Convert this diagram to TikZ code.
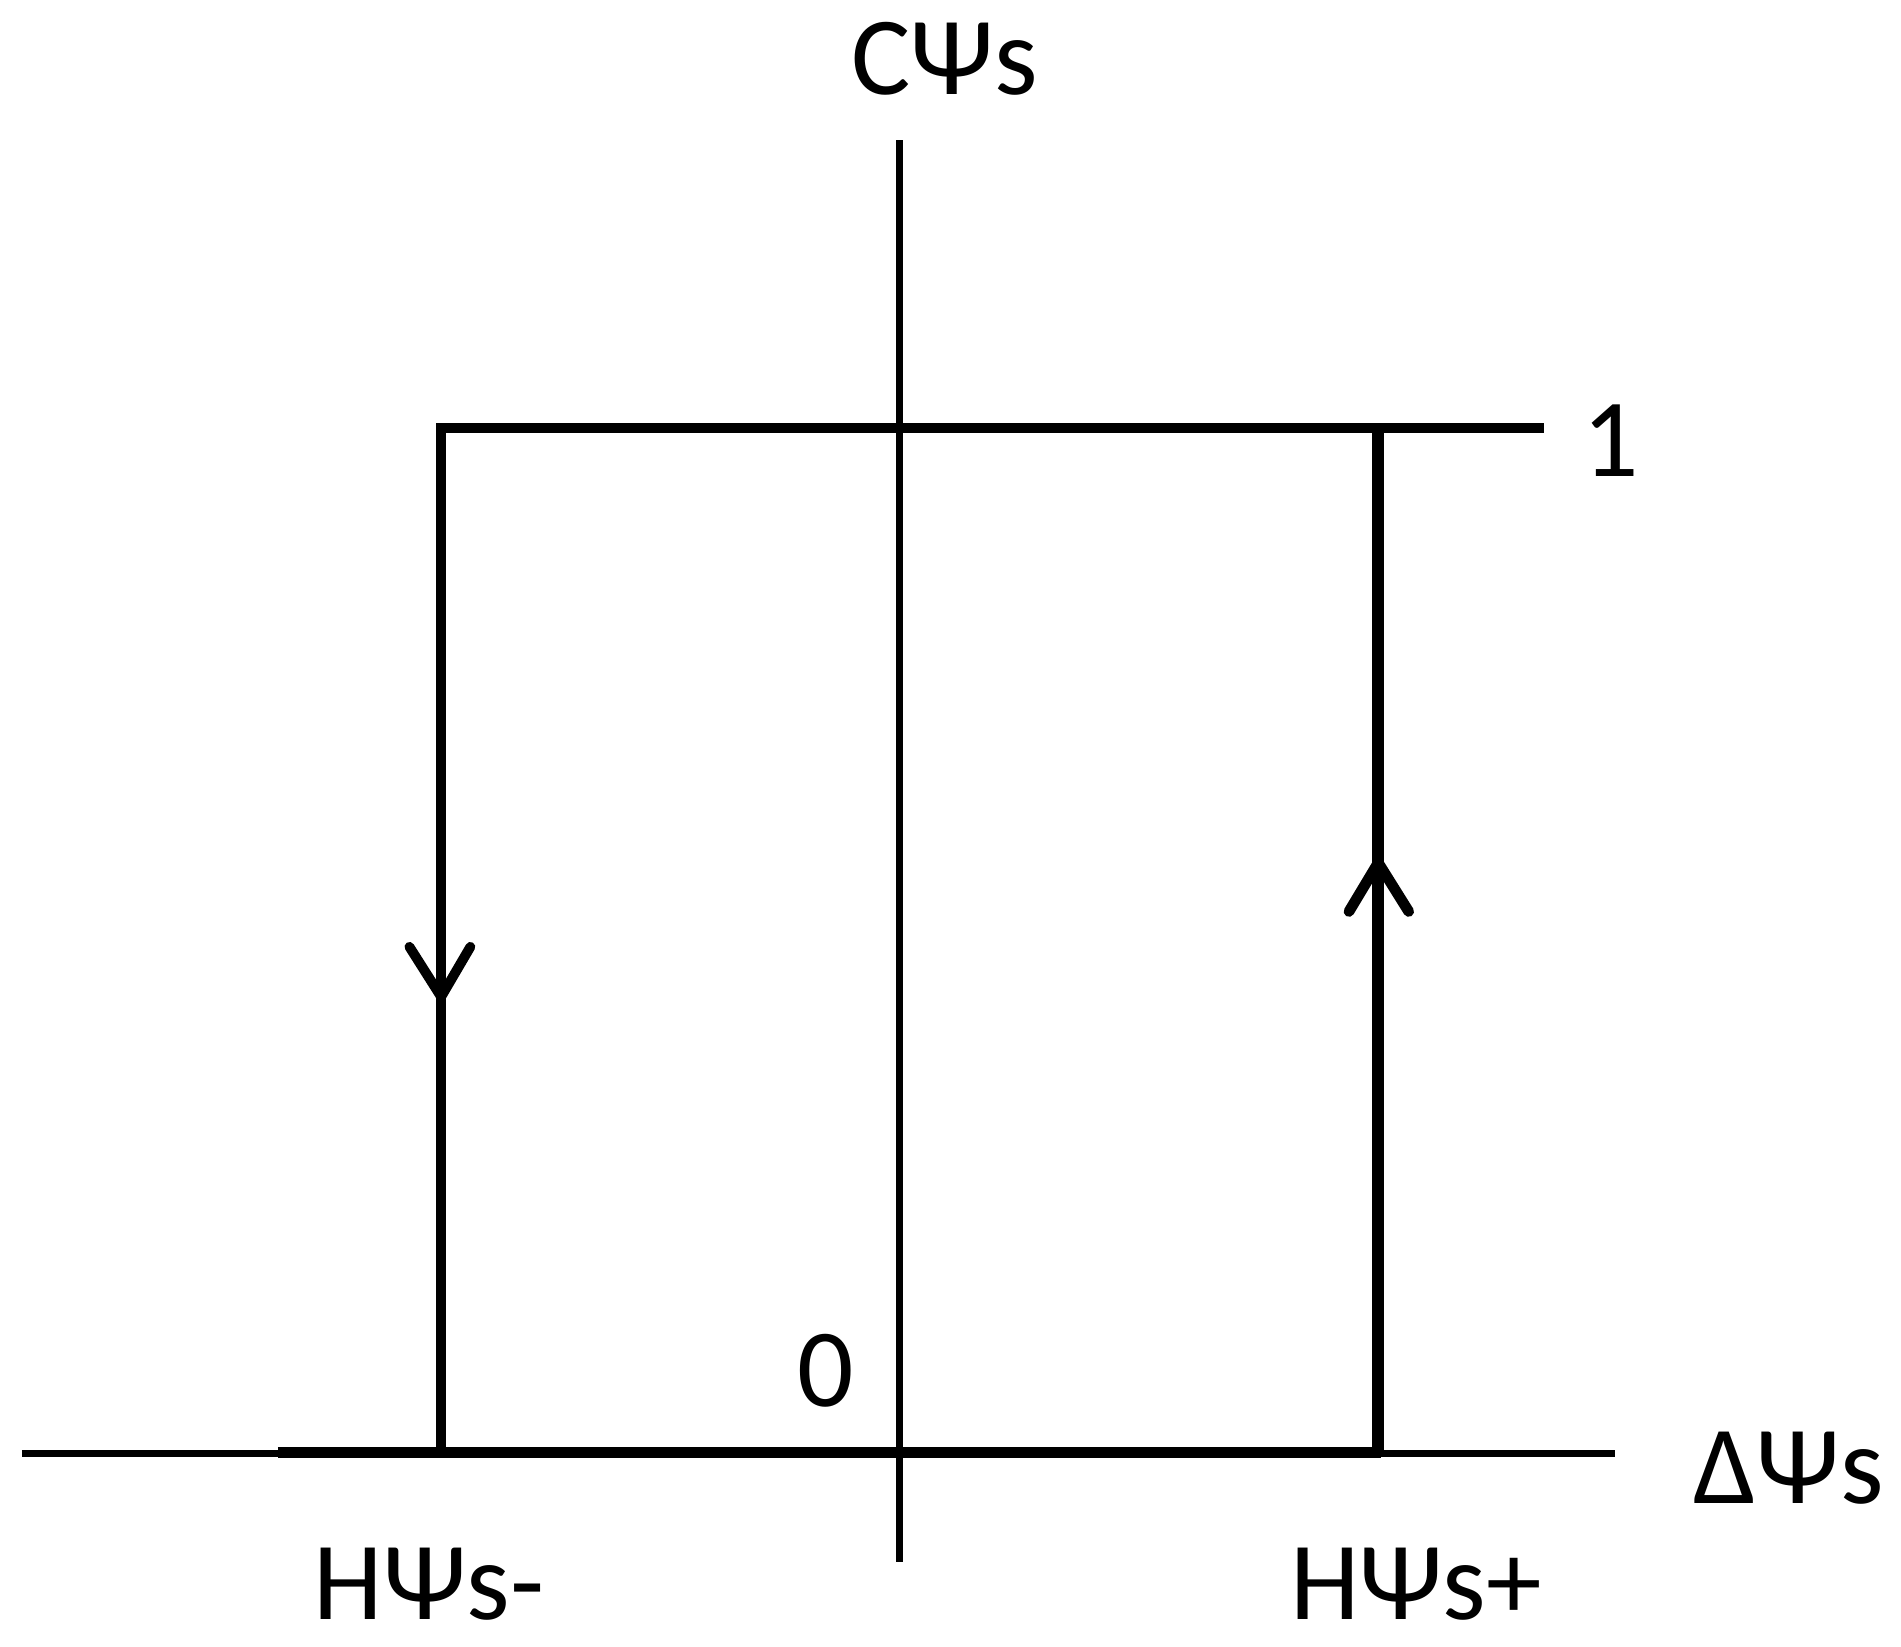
\documentclass[tikz,border=0pt]{standalone}
\usepackage{fontspec}
\setmainfont{Carlito}
\begin{document}
\begin{tikzpicture}[x=0.02cm,y=-0.02cm,
  thin axis/.style={line width=3.4pt},
  thick line/.style={line width=5pt},
  lbl/.style={font=\fontsize{52}{60}\selectfont, inner sep=0pt}]
\useasboundingbox (0,0) rectangle (1560,1351);
% axes
\coordinate (vt) at (738,115); \coordinate (vb) at (738,1282);
\coordinate (hl) at (18,1193); \coordinate (hr) at (1325,1193);
\draw[thin axis] (vt) -- (vb);
\draw[thin axis] (hl) -- (hr);
% loop
\coordinate (bl) at (228,1192); \coordinate (br) at (1133,1192);
\coordinate (tl) at (358,351); \coordinate (tr) at (1267,351);
\draw[line width=5.5pt] (bl) -- (br);
\draw[line width=4.6pt] (tl) -- (tr);
\draw[line width=4.6pt] (362,351) -- (362,1192);
\draw[line width=5.5pt] (1131,355) -- (1131,1192);
% chevrons
\draw[line width=4.6pt, line cap=round, line join=miter] (336,777) -- (362,818) -- (386,777);
\draw[line width=5pt, line cap=round, line join=miter] (1107,748) -- (1131,708) -- (1156,748);
% labels
\node[lbl] (c) at (775,48) {CΨs};
\node[lbl] (one) at (1322,362) {1};
\node[lbl] (zero) at (678,1125) {0};
\node[lbl] (d) at (1468,1205) {ΔΨs};
\node[lbl] (hm) at (352,1300) {HΨs-};
\node[lbl] (hp) at (1162,1300) {HΨs+};
\end{tikzpicture}
\end{document}
